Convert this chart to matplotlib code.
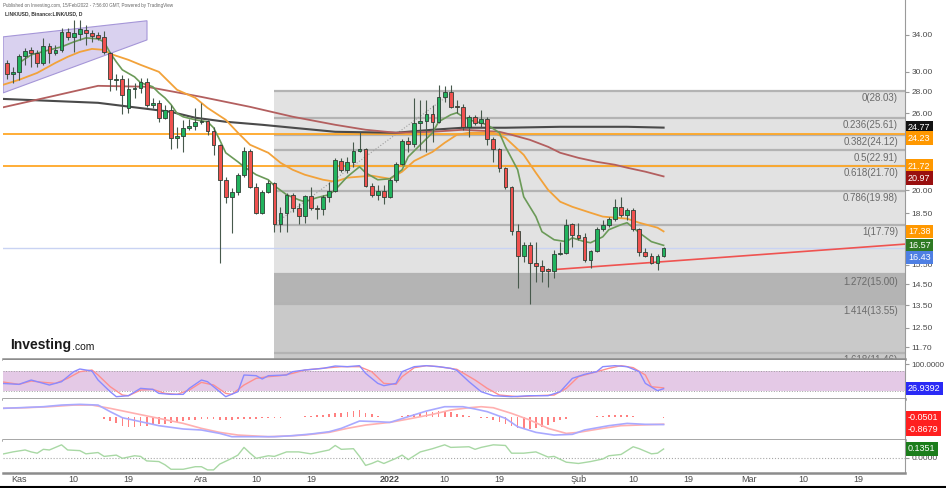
import matplotlib
matplotlib.use("Agg")
import matplotlib.pyplot as plt
import numpy as np
from matplotlib.lines import Line2D
from matplotlib.patches import Polygon
from matplotlib.ticker import NullLocator

plt.rcParams["font.family"] = ["Liberation Sans", "DejaVu Sans"]

# x = days since 1 Nov 2021
day = np.arange(-2, 107)
open_ = [30.90, 29.76, 29.97, 31.65, 32.30, 31.97, 30.90, 32.75, 31.97, 32.30,
         34.35, 33.77, 34.12, 34.58, 34.23, 34.00, 33.77, 31.97, 29.16, 29.26,
         26.50, 28.28, 28.38, 28.97, 26.77, 26.96, 25.62, 26.32, 23.92, 24.09,
         24.76, 24.93, 25.27, 25.36, 24.50, 23.36, 20.73, 19.56, 19.90, 21.09,
         22.88, 20.24, 18.52, 19.89, 20.52, 17.84, 18.52, 19.70, 18.84, 18.34,
         19.63, 18.84, 18.77, 19.56, 19.96, 22.12, 21.45, 22.04, 22.88, 23.04,
         20.31, 19.70, 19.96, 19.56, 20.73, 21.89, 23.68, 23.44, 25.18, 25.36,
         25.97, 25.27, 27.51, 27.99, 26.65, 26.59, 24.84, 25.71, 25.18, 25.53,
         23.84, 23.04, 21.60, 20.24, 17.42, 16.00, 16.61, 15.62, 15.46, 15.30,
         15.20, 16.11, 16.16, 17.84, 17.18, 17.06, 15.78, 16.27, 17.54, 17.78,
         18.15, 18.90, 18.40, 18.71, 17.54, 16.22, 16.00, 15.62, 16.00]
high = [31.22, 30.48, 31.87, 32.52, 32.64, 32.30, 33.65, 33.08, 32.86, 34.82,
        34.82, 35.80, 35.80, 35.18, 34.58, 34.35, 34.47, 32.08, 29.76, 29.66,
        29.36, 28.87, 29.36, 29.36, 27.42, 27.24, 26.77, 26.77, 24.84, 25.44,
        25.53, 26.50, 26.96, 25.44, 24.84, 23.40, 20.95, 20.17, 21.23, 23.20,
        23.04, 20.52, 20.03, 20.73, 20.60, 18.90, 19.83, 19.83, 19.16, 19.70,
        20.24, 19.03, 19.70, 20.59, 22.34, 22.34, 22.41, 23.60, 24.42, 23.12,
        20.52, 20.38, 20.38, 20.88, 22.04, 23.84, 24.00, 27.42, 27.24, 27.24,
        26.77, 28.67, 28.57, 28.67, 27.24, 26.86, 25.88, 25.88, 26.32, 25.71,
        24.00, 23.12, 21.67, 20.30, 17.84, 16.78, 16.78, 16.78, 15.78, 15.35,
        16.33, 16.78, 18.15, 17.90, 17.90, 17.30, 16.33, 17.66, 18.09, 18.28,
        19.43, 19.56, 18.84, 18.84, 17.60, 16.44, 16.16, 16.11, 16.50]
low = [29.26, 28.87, 29.16, 30.69, 30.48, 30.48, 30.69, 30.90, 31.76, 32.08,
       33.42, 32.08, 33.42, 32.86, 33.19, 33.42, 31.87, 28.08, 28.18, 25.97,
       26.06, 27.42, 27.89, 26.59, 26.50, 25.27, 25.53, 23.04, 23.12, 22.80,
       24.59, 24.59, 25.10, 24.17, 22.57, 15.62, 19.16, 17.30, 19.70, 20.95,
       20.17, 18.46, 18.46, 19.83, 17.36, 17.36, 17.36, 18.59, 17.84, 17.90,
       18.71, 18.15, 18.40, 19.23, 19.90, 21.31, 21.23, 21.67, 22.80, 20.24,
       19.56, 19.36, 19.10, 19.50, 20.59, 21.82, 22.80, 23.20, 22.96, 22.80,
       23.60, 25.18, 27.05, 26.50, 26.06, 24.59, 24.00, 25.01, 24.84, 23.36,
       22.04, 21.31, 20.10, 17.18, 14.34, 15.68, 13.58, 14.64, 14.64, 14.39,
       14.84, 16.05, 16.11, 16.50, 16.89, 15.68, 15.35, 16.22, 17.42, 17.66,
       18.03, 18.28, 18.09, 17.42, 16.00, 15.95, 15.57, 15.25, 15.95]
close = [29.76, 29.97, 31.65, 32.19, 31.97, 30.90, 32.75, 31.97, 32.30, 34.35,
         33.77, 34.23, 34.70, 34.23, 33.88, 33.65, 32.08, 29.26, 29.26, 27.70,
         28.28, 28.38, 28.97, 26.77, 26.96, 25.62, 26.32, 23.92, 24.09, 24.76,
         24.93, 25.27, 25.36, 24.50, 23.36, 20.73, 19.56, 19.90, 21.09, 22.88,
         20.24, 18.52, 19.89, 20.52, 17.84, 18.52, 19.70, 18.84, 18.34, 19.63,
         18.84, 18.77, 19.56, 19.96, 22.19, 21.45, 22.04, 22.88, 23.04, 20.31,
         19.70, 19.96, 19.56, 20.73, 21.89, 23.68, 23.44, 25.18, 25.36, 25.97,
         25.27, 27.51, 27.99, 26.59, 26.55, 24.84, 25.71, 25.18, 25.53, 23.84,
         23.04, 21.60, 20.24, 17.42, 16.00, 16.61, 15.62, 15.46, 15.20, 15.20,
         16.11, 16.16, 17.78, 17.18, 17.00, 15.78, 16.27, 17.54, 17.78, 18.15,
         18.90, 18.40, 18.71, 17.54, 16.22, 16.00, 15.62, 16.00, 16.43]

# moving averages, read at sample days
fast_day = [0, 2, 5, 7, 9, 11, 13, 14, 15, 16, 17, 19, 20, 22, 23, 24, 25, 26, 27, 29,
            31, 32, 33, 34, 36, 37, 39, 41, 42, 44, 46, 47, 49, 51, 52, 54, 56, 57, 59,
            61, 63, 64, 66, 68, 69, 71, 72, 73, 75, 76, 77, 79, 80, 82, 83, 85, 86, 88,
            90, 91, 93, 94, 96, 97, 99, 100, 101, 102, 104, 106]
fast_ma = [30.90, 31.76, 32.30, 32.64, 33.19, 33.65, 33.54, 33.19, 31.97, 31.01,
           30.17, 29.46, 28.87, 28.48, 27.89, 27.42, 26.80, 26.00, 25.70, 25.44,
           25.27, 24.76, 23.76, 22.73, 22.04, 21.67, 21.09, 20.73, 20.31, 19.70,
           19.36, 19.23, 19.50, 19.70, 20.03, 20.95, 21.67, 21.23, 20.73, 20.80,
           21.45, 22.42, 23.36, 24.34, 25.27, 25.88, 26.06, 25.71, 25.27, 25.18,
           25.01, 24.34, 23.20, 21.45, 19.56, 18.28, 17.36, 16.89, 16.78, 17.00,
           16.78, 16.72, 17.06, 17.48, 17.78, 17.90, 17.60, 17.30, 16.78, 16.57]
slow_day = [-3, 0, 3, 6, 8, 10, 12, 14, 15, 18, 20, 23, 24, 26, 29, 31, 34, 36, 38, 41,
            43, 45, 47, 50, 52, 54, 58, 61, 63, 65, 68, 70, 72, 74, 76, 78, 80, 83, 85,
            87, 89, 91, 94, 96, 98, 100, 102, 105, 106]
slow_ma = [28.60, 29.16, 29.86, 30.90, 31.54, 32.08, 32.41, 32.30, 31.87, 31.22,
           30.69, 29.97, 29.36, 28.18, 27.42, 26.50, 25.44, 24.34, 23.36, 22.73,
           21.97, 21.45, 21.09, 20.73, 20.59, 20.88, 21.02, 20.80, 21.31, 22.11,
           22.80, 23.52, 24.17, 24.34, 24.34, 24.34, 23.92, 22.57, 21.23, 20.03,
           19.23, 18.90, 18.52, 18.28, 18.21, 18.15, 17.90, 17.60, 17.38]
mid_day = [-3, 5, 13, 21, 30, 38, 45, 52, 57, 62, 68, 73, 79, 81, 84, 87, 89, 92, 95,
           98, 100, 103, 106]
mid_ma = [26.50, 27.51, 28.57, 28.48, 27.51, 26.59, 25.71, 25.01, 24.59, 24.34, 24.42,
          24.59, 24.42, 24.17, 23.76, 23.20, 22.73, 22.34, 22.04, 21.82, 21.60, 21.31,
          20.97]
long_day = [-3, 13, 25, 29, 34, 40, 45, 52, 62, 68, 73, 80, 89, 100, 106]
long_ma = [27.33, 26.96, 26.14, 25.62, 25.27, 25.01, 24.76, 24.42, 24.34, 24.59, 24.76,
           24.76, 24.84, 24.84, 24.77]

# drawings
fib_ratio = ["0", "0.236", "0.382", "0.5", "0.618", "0.786", "1", "1.272", "1.414", "1.618"]
fib_price = [28.03, 25.61, 24.12, 22.91, 21.70, 19.98, 17.79, 15.00, 13.55, 11.46]
fib_start = 41.9
fib_anchor_day = [41.9, 71.5]
fib_anchor_price = [17.79, 28.03]
hlines_orange = [24.23, 21.72]
last_price = 16.43
trend_day = [87.8, 145.7]
trend_price = [15.25, 16.64]
wedge_day = [-2.6, 21.05, 21.05, -2.6]
wedge_price = [33.77, 35.68, 33.42, 27.89]

# stochastic RSI
k_day = [-3, 0, 2, 4, 5, 7, 9, 10, 12, 13, 15, 16, 18, 20, 22, 23, 25, 27, 28, 30, 31,
         33, 34, 36, 37, 39, 40, 41, 44, 45, 47, 50, 52, 54, 56, 57, 59, 60, 62, 63, 65,
         67, 69, 71, 72, 73, 74, 76, 78, 81, 84, 87, 89, 91, 93, 95, 96, 98, 100, 102,
         103, 105, 106]
k_val = [43, 40, 53, 43, 38, 48, 78, 86, 80, 53, 18, 3, 6, 28, 25, 13, 10, 10, 28, 53,
         48, 18, 3, 18, 68, 66, 56, 66, 68, 78, 83, 88, 95, 93, 96, 73, 43, 36, 43, 78,
         93, 96, 93, 88, 82, 65, 48, 18, 6, 3, 6, 6, 18, 58, 70, 78, 93, 96, 93, 78, 43,
         21, 26.94]
d_day = [-3, 0, 2, 4, 6, 8, 10, 12, 13, 15, 17, 18, 20, 22, 24, 26, 28, 30, 32, 34, 35,
         37, 39, 41, 43, 45, 47, 51, 53, 56, 58, 60, 62, 63, 65, 67, 69, 72, 75, 77, 79,
         82, 85, 88, 90, 92, 94, 97, 99, 101, 103, 104, 106]
d_val = [48, 40, 50, 46, 43, 58, 78, 83, 68, 33, 8, 6, 23, 25, 13, 10, 23, 46, 38, 13,
         10, 38, 58, 63, 66, 73, 83, 90, 93, 93, 78, 43, 40, 63, 90, 96, 93, 85, 53, 28,
         8, 3, 6, 8, 28, 63, 73, 88, 96, 90, 68, 33, 29.34]

# MACD
macd_day = [-3, 0, 4, 7, 10, 13, 15, 17, 20, 23, 27, 30, 33, 35, 39, 42, 45, 48, 51, 53,
            56, 59, 61, 64, 67, 70, 73, 75, 77, 80, 82, 85, 88, 91, 93, 97, 100, 103, 106]
macd_val = [1.14, 1.22, 1.35, 1.56, 1.65, 1.56, 0.72, -0.05, -0.55, -1.06, -1.48, -1.61,
            -2.04, -2.46, -2.46, -2.46, -2.33, -2.12, -1.83, -1.40, -0.47, -0.55, -0.64,
            0.08, 0.80, 1.35, 1.35, 1.06, 0.72, -0.13, -1.19, -1.91, -2.25, -2.16, -1.61,
            -1.06, -0.77, -0.89, -0.918]
signal_day = [-3, 1, 5, 9, 12, 15, 19, 23, 27, 30, 33, 36, 41, 44, 47, 51, 54, 57, 61,
              64, 68, 71, 74, 76, 78, 81, 84, 87, 90, 92, 96, 99, 102, 106]
signal_val = [1.14, 1.22, 1.35, 1.56, 1.56, 1.14, 0.50, -0.13, -0.77, -1.40, -1.91,
              -2.25, -2.46, -2.38, -2.25, -1.91, -1.40, -0.98, -0.64, -0.22, 0.38, 0.93,
              1.22, 1.35, 1.22, 0.50, -0.34, -1.40, -2.04, -1.91, -1.40, -1.06, -0.98,
              -0.868]
hist_val = [0.05, 0.05, 0.04, 0.05, 0.06, 0.05, 0.06, 0.08, 0.08, 0.10, 0.10, 0.10,
            0.08, 0.06, 0.04, 0.00, -0.20, -0.47, -0.76, -1.06, -1.19, -1.19, -1.10,
            -1.06, -0.95, -0.90, -0.80, -0.76, -0.62, -0.50, -0.40, -0.30, -0.22, -0.15,
            -0.20, -0.28, -0.30, -0.30, -0.25, -0.20, -0.15, -0.18, -0.12, -0.08, -0.05,
            -0.03, 0.00, 0.05, 0.10, 0.15, 0.20, 0.26, 0.33, 0.42, 0.50, 0.60, 0.70, 0.80,
            0.90, 0.60, 0.38, 0.20, 0.08, 0.04, 0.08, 0.20, 0.32, 0.48, 0.60, 0.68, 0.70,
            0.75, 0.80, 0.66, 0.48, 0.28, 0.12, 0.05, -0.04, -0.10, -0.35, -0.60, -0.85,
            -1.10, -1.40, -1.45, -1.45, -1.35, -1.20, -0.95, -0.65, -0.38, -0.15, 0.00,
            0.05, 0.05, 0.10, 0.15, 0.20, 0.30, 0.35, 0.35, 0.30, 0.20, 0.10, 0.05, 0.02,
            -0.02, -0.05]

# third oscillator
osc_day = [-3, -1, 1, 2, 3, 4, 5, 7, 8, 10, 11, 13, 14, 16, 17, 19, 20, 21, 23, 24, 25,
           27, 29, 30, 31, 32, 33, 35, 36, 37, 38, 39, 41, 42, 44, 46, 48, 51, 52, 53, 55,
           56, 57, 58, 59, 60, 62, 63, 64, 66, 68, 70, 71, 74, 75, 76, 78, 80, 81, 83, 85,
           87, 88, 90, 92, 94, 96, 97, 99, 101, 102, 104, 105, 106]
osc_val = [0.05, 0.09, 0.12, 0.09, 0.07, 0.13, 0.12, 0.20, 0.12, 0.11, 0.06, 0.08, 0.02,
           0.04, -0.01, 0.03, 0.02, -0.05, -0.06, -0.11, -0.18, -0.18, -0.14, -0.14,
           -0.19, -0.19, -0.10, -0.01, 0.04, 0.16, 0.07, -0.01, 0.03, 0.02, 0.09, 0.09,
           0.06, 0.12, 0.19, 0.13, 0.14, 0.02, -0.12, -0.09, -0.05, -0.09, -0.01, 0.04,
           -0.03, 0.09, 0.14, 0.20, 0.16, 0.17, 0.13, 0.16, 0.20, 0.19, 0.07, 0.07, 0.09,
           0.01, 0.02, -0.07, -0.09, -0.06, -0.02, 0.03, 0.05, 0.17, 0.14, 0.06, 0.07,
           0.1351]

price_ticks = [34, 30, 28, 26, 20, 18.5, 15.5, 14.5, 13.5, 12.5, 11.7]
tick_day = [0, 9, 18, 30, 39, 48, 61, 70, 79, 92, 101, 110, 120, 129, 138]
tick_label = ["Kas", "10", "19", "Ara", "10", "19", "2022", "10", "19", "Şub", "10",
              "19", "Mar", "10", "19"]

UP, DOWN = "#22b35e", "#f0514f"
GRID = "#8c8c8c"
XLIM = (-2.63, 145.7)

W, H = 946, 488
fig = plt.figure(figsize=(W / 100, H / 100), dpi=100)


def box(x0, y0, x1, y1):
    return [x0 / W, 1 - y1 / H, (x1 - x0) / W, (y1 - y0) / H]


ax = fig.add_axes(box(3, 0, 905, 359))
ax_st = fig.add_axes(box(3, 360, 905, 399))
ax_md = fig.add_axes(box(3, 399, 905, 440))
ax_os = fig.add_axes(box(3, 440, 905, 473))

for a in (ax, ax_st, ax_md, ax_os):
    a.set_xlim(*XLIM)
    for s in ("top", "left"):
        a.spines[s].set_visible(False)
    a.spines["right"].set_color("#9a9a9a")
    a.spines["bottom"].set_color(GRID)
    a.spines["bottom"].set_linewidth(1.8)
    a.yaxis.tick_right()
    a.tick_params(axis="y", labelsize=6.0, labelcolor="#4a4a4a", color="#9a9a9a",
                  length=3, pad=1.5)
    a.tick_params(axis="x", length=0)
    if a is not ax_os:
        a.set_xticks([])


def tag(a, value, text, color, dy=0.0):
    a.annotate(text, xy=(1, value), xycoords=("axes fraction", "data"),
               xytext=(2.2, dy), textcoords="offset points", ha="left", va="center",
               fontsize=6.5, color="white", annotation_clip=False, zorder=10,
               bbox=dict(boxstyle="square,pad=0.25", fc=color, ec="none"))


# ---- price panel
ax.set_yscale("log")
ax.set_ylim(11.24, 38.3)
ax.yaxis.set_minor_locator(NullLocator())
ax.set_yticks(price_ticks)
ax.set_yticklabels([f"{p:.2f}" for p in price_ticks])

# fibonacci box
fx = [fib_start, XLIM[1]]
band_colors = ["#e2e2e2"] * 7 + ["#b4b4b4", "#c9c9c9"]
for i, c in enumerate(band_colors):
    ax.fill_between(fx, fib_price[i + 1], fib_price[i], color=c, lw=0, zorder=0.5)
ax.fill_between(fx, 11.0, fib_price[-1], color="#c9c9c9", lw=0, zorder=0.5)
ax.hlines(fib_price, fib_start, XLIM[1], color="#b3b3b3", lw=1.6, zorder=0.6)
for r, p in zip(fib_ratio, fib_price):
    ax.annotate(f"{r}({p:.2f})", xy=(1, p), xycoords=("axes fraction", "data"),
                xytext=(-5, -1.5), textcoords="offset points", ha="right", va="top",
                fontsize=7, color="#6a6a6a", clip_on=True, zorder=0.7)
ax.plot(fib_anchor_day, fib_anchor_price, color="#9e9e9e", ls=":", lw=0.8, zorder=0.8)

ax.add_patch(Polygon(list(zip(wedge_day, wedge_price)), closed=True, fc="#d9d1ef",
                     ec="#a596d8", lw=0.8, zorder=1))

ax.axhline(last_price, color="#c9d3f3", lw=1, zorder=1.2)
for p in hlines_orange:
    ax.axhline(p, color="#ffa726", lw=1.3, zorder=1.3)
ax.plot(trend_day, trend_price, color="#ef5350", lw=1.2, zorder=1.4)

ax.plot(long_day, long_ma, color="#4a4a4a", lw=1.5, zorder=2)
ax.plot(mid_day, mid_ma, color="#b35f5f", lw=1.3, zorder=2)
ax.plot(slow_day, slow_ma, color="#f2a23a", lw=1.3, zorder=2.1)
ax.plot(fast_day, fast_ma, color="#6b9a58", lw=1.2, zorder=2.2)

o = np.array(open_)
c = np.array(close)
cols = [UP if cc >= oo else DOWN for oo, cc in zip(o, c)]
ax.vlines(day, low, high, color="#47594c", lw=0.8, zorder=2.9)
ax.bar(day, np.abs(c - o), bottom=np.minimum(o, c), width=0.62, color=cols,
       edgecolor="#2f3f35", linewidth=0.6, zorder=3)

tag(ax, 24.77, "24.77", "#131313")
tag(ax, 24.23, "24.23", "#ff9800", -2.9)
tag(ax, 21.72, "21.72", "#ff9800")
tag(ax, 20.97, "20.97", "#990f0f", -1.2)
tag(ax, 17.38, "17.38", "#ff9800")
tag(ax, 16.57, "16.57", "#2f7a23")
tag(ax, 16.43, "16.43", "#4e7fe3", -7)

# logo and captions
logo = fig.text(10 / W, 1 - 345 / H, "Investing", fontsize=10, fontweight="bold",
                color="#1a1a1a", va="center")
fig.text(72 / W, 1 - 349.5 / H, ".com", fontsize=7.5, color="#1a1a1a", va="baseline")
fig.text(3 / W, 1 - 5 / H, "Published on Investing.com, 15/Feb/2022 - 7:56:00 GMT, "
         "Powered by TradingView", fontsize=3.3, color="#666666", va="center")
fig.text(5 / W, 1 - 14 / H, "LINK/USD, Binance:LINK/USD, D", fontsize=3.6,
         fontweight="bold", color="#333333", va="center")

# ---- stochastic RSI
ax_st.set_ylim(-3.9, 113)
ax_st.axhspan(20, 80, color="#e4c9e6", lw=0, zorder=0.5)
ax_st.axhline(80, color="#a0a0a0", ls=":", lw=0.7)
ax_st.axhline(20, color="#a0a0a0", ls=":", lw=0.7)
ax_st.plot(d_day, d_val, color="#ff8f8f", lw=1.0, zorder=2)
ax_st.plot(k_day, k_val, color="#8a8aff", lw=1.0, zorder=2.1)
ax_st.set_yticks([100])
ax_st.set_yticklabels(["100.0000"])
ax_st.tick_params(axis="y", labelsize=5.8)
tag(ax_st, 26.94, "26.9392", "#2a2af5")

# ---- MACD
ax_md.set_ylim(-2.88, 2.33)
ax_md.bar(day, hist_val, width=0.28, color="#ff8080", zorder=1.5)
ax_md.plot(signal_day, signal_val, color="#ffb0b0", lw=1.2, zorder=2)
ax_md.plot(macd_day, macd_val, color="#a9a9ff", lw=1.2, zorder=2.1)
ax_md.set_yticks([])
tag(ax_md, -0.0501, "-0.0501", "#ff1f1f")
tag(ax_md, -0.8679, "-0.8679", "#ff1f1f", -3.6)

# ---- third oscillator
ax_os.set_ylim(-0.238, 0.275)
ax_os.axhline(0, color="#a8a8a8", ls=":", lw=0.8)
ax_os.plot(osc_day, osc_val, color="#a8d8a4", lw=1.0, zorder=2)
ax_os.set_yticks([0])
ax_os.set_yticklabels(["0.0000"])
tag(ax_os, 0.1351, "0.1351", "#1b7d1b")
ax_os.set_xticks(tick_day)
ax_os.set_xticklabels(tick_label)
ax_os.tick_params(axis="x", labelsize=6.5, labelcolor="#4a4a4a", pad=1.5)
for lbl in ax_os.get_xticklabels():
    if lbl.get_text() == "2022":
        lbl.set_fontweight("bold")

fig.add_artist(Line2D([0, 1], [1 - 487 / H] * 2, color="black", lw=1.5))

fig.savefig("out.png", dpi=100)
